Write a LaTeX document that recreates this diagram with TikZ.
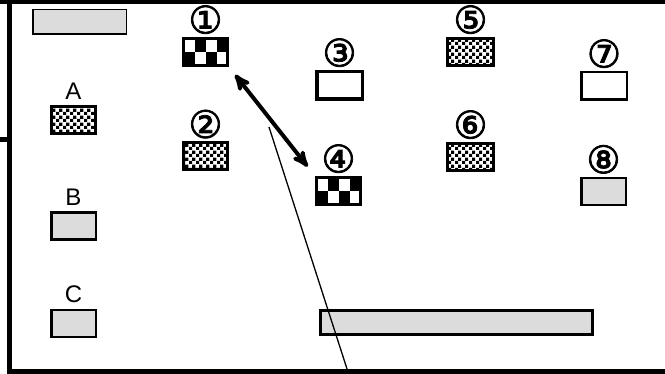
\documentclass[tikz,border=0pt]{standalone}
\usepackage{fontspec}
\setmainfont{Liberation Sans}
\newfontfamily\circfont[FakeBold=2]{DejaVu Sans}
\usetikzlibrary{arrows,positioning,patterns.meta}

\definecolor{boxgray}{RGB}{220,220,220}

\tikzdeclarepattern{name=smallcheck, type=uncolored,
  bounding box={(0pt,0pt) and (7pt,7pt)}, tile size={(7pt,7pt)},
  code={\fill (0pt,0pt) rectangle (3.5pt,3.5pt);
        \fill (3.5pt,3.5pt) rectangle (7pt,7pt);}}

\tikzset{
  box/.style={draw=black, rectangle, inner sep=0pt},
  graybox/.style={box, fill=boxgray, line width=2.5pt,
                  minimum width=44.5pt, minimum height=27pt},
  whitebox/.style={box, fill=white},
  finechk/.style={box, line width=3pt, minimum width=44pt, minimum height=27pt,
                  preaction={fill=white}, pattern=smallcheck, pattern color=black},
  bigchk/.style={box, line width=3pt, minimum width=44pt, minimum height=27pt,
                 fill=white, path picture={
      \foreach \cx/\ry in {1/0,3/0,0/1,2/1}
        \fill[black] ([shift={(\cx*11pt,-\ry*13.5pt)}]path picture bounding box.north west)
              rectangle ++(11pt,-13.5pt);}},
  num/.style={font=\circfont\fontsize{38}{38}\selectfont, inner sep=0pt},
  letter/.style={font=\fontsize{24}{24}\selectfont, inner sep=0pt}
}

\begin{document}
\begin{tikzpicture}[x=1pt, y=-1pt, >=stealth']
  \useasboundingbox (0,0) rectangle (665,374);

  % frame
  \fill (0,0) rectangle (665,4.5);
  \fill (6.5,0) rectangle (11.5,374);
  \fill (6.5,369.5) rectangle (665,374);
  \fill (0,137.5) rectangle (6.5,142.5);

  % left column
  \node[box, fill=boxgray, line width=1.5pt, minimum width=93.5pt,
        minimum height=24.5pt] (top) at (79.5,22) {};
  \node[finechk] (bA) at (73.5,120.5) {};
  \node[letter, above=6pt of bA] (lA) {A};
  \node[graybox] (bB) at (73.5,226) {};
  \node[letter, above=6pt of bB] (lB) {B};
  \node[graybox] (bC) at (73.5,323.5) {};
  \node[letter, above=6pt of bC] (lC) {C};

  % numbered boxes
  \node[bigchk] (b1) at (205.5,52) {};
  \node[num, above=3pt of b1] (n1) {①};
  \node[finechk] (b2) at (205.5,156.5) {};
  \node[num, above=3pt of b2] (n2) {②};
  \node[whitebox, line width=3.5pt, minimum width=45.5pt,
        minimum height=27.5pt] (b3) at (339.5,85.5) {};
  \node[num, above=3pt of b3] (n3) {③};
  \node[bigchk] (b4) at (338.5,191) {};
  \node[num, above=3pt of b4] (n4) {④};
  \node[finechk, minimum width=46pt] (b5) at (470.5,52) {};
  \node[num, above=3pt of b5] (n5) {⑤};
  \node[finechk, minimum width=46pt] (b6) at (470.5,157) {};
  \node[num, above=3pt of b6] (n6) {⑥};
  \node[whitebox, line width=2.5pt, minimum width=45.5pt,
        minimum height=27.5pt] (b7) at (604,86) {};
  \node[num, above=3pt of b7] (n7) {⑦};
  \node[graybox] (b8) at (603.5,191.5) {};
  \node[num, above=3pt of b8] (n8) {⑧};

  % long bar
  \node[box, fill=boxgray, line width=3pt, minimum width=272pt,
        minimum height=24pt] (bar) at (456.5,322.5) {};

  \draw[<->, line width=4pt, shorten <=10pt, shorten >=12pt]
    (b1.south east) -- (b4.north west);

  \coordinate (ltop) at (269,127);
  \coordinate (lbot) at (348,372);
  \draw[line width=1.3pt] (ltop) -- (lbot);
\end{tikzpicture}
\end{document}
